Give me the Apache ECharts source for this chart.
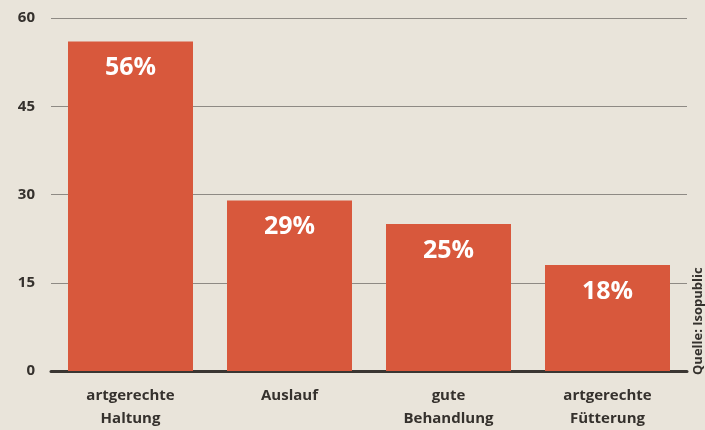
<!DOCTYPE html>
<html><head><meta charset="utf-8">
<script src="https://cdn.jsdelivr.net/npm/echarts@6/dist/echarts.min.js"></script>
<style>html,body{margin:0;padding:0;background:#e9e4da}#c{width:705px;height:430px}</style>
</head><body><div id="c"></div>
<script>
const categories = ['artgerechte\nHaltung', 'Auslauf', 'gute\nBehandlung', 'artgerechte\nFütterung'];
const values = [56, 29, 25, 18];
const yTicks = [0, 15, 30, 45, 60];
const source = 'Quelle: Isopublic';

const chart = echarts.init(document.getElementById('c'));
chart.setOption({
  backgroundColor: '#e9e4da',
  animation: false,
  grid: { left: 51, right: 18, top: 18, bottom: 58 },
  xAxis: {
    type: 'category',
    data: categories,
    axisLine: { lineStyle: { color: '#3a3632', width: 3 } },
    axisTick: { show: false },
    axisLabel: { color: '#35312d', fontWeight: 'bold', fontSize: 15, fontFamily: 'Open Sans', lineHeight: 23, margin: 13 }
  },
  yAxis: {
    type: 'value', min: yTicks[0], max: yTicks[yTicks.length - 1], interval: 15,
    axisLine: { show: false }, axisTick: { show: false },
    axisLabel: { color: '#35312d', fontWeight: 'bold', fontSize: 15, fontFamily: 'Open Sans', margin: 16 },
    splitLine: { lineStyle: { color: '#8e8a84', width: 1 } }
  },
  series: [{
    type: 'bar',
    data: values,
    barWidth: 125,
    itemStyle: { color: '#d8583c' },
    label: {
      show: true, position: 'insideTop', distance: 14,
      formatter: '{c}%', color: '#fff', fontWeight: 'bold', fontSize: 25, fontFamily: 'Open Sans'
    }
  }],
  graphic: [{
    type: 'text', x: 698, y: 375, rotation: Math.PI / 2,
    style: { text: source, fill: '#35312d', font: 'bold 13px "Open Sans"', textAlign: 'left', textVerticalAlign: 'middle' }
  }]
});
</script></body></html>
